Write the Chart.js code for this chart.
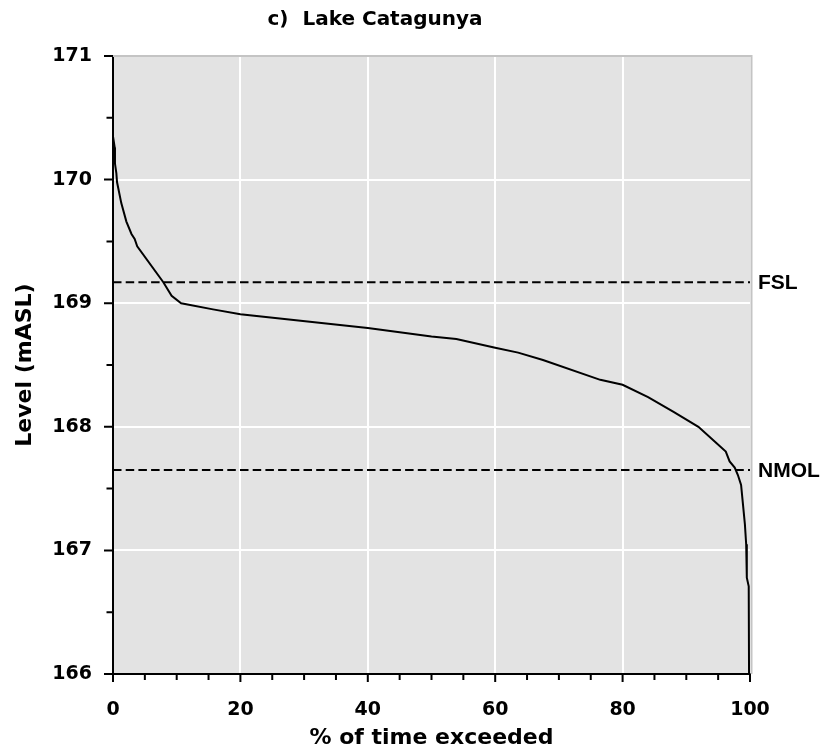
<!DOCTYPE html>
<html>
<head>
<meta charset="utf-8">
<script src="https://cdn.jsdelivr.net/npm/chart.js@4"></script>
<style>
html,body{margin:0;padding:0;background:#fff;}
#wrap{width:831px;height:751px;position:relative;}
</style>
</head>
<body>
<div id="wrap"><canvas id="c" width="831" height="751"></canvas></div>
<script>
// ---- data ----
const pctExceeded = [0, 0.27, 0.31, 0.53, 0.63, 1.3, 2.1, 2.9, 3.4, 3.8, 7.9, 9.2, 10.7, 15.7, 20, 40, 50, 53.9, 60, 63.6, 67.5, 76.5, 80, 84, 88, 91.9, 94.5, 96.2, 96.8, 97.6, 98.1, 98.6, 98.9, 99.2, 99.4, 99.5, 99.8, 99.85];
const levelMASL  = [170.35, 170.26, 170.13, 170.05, 169.98, 169.81, 169.66, 169.56, 169.52, 169.46, 169.17, 169.06, 169.00, 168.95, 168.91, 168.80, 168.73, 168.71, 168.64, 168.60, 168.54, 168.38, 168.34, 168.24, 168.12, 168.00, 167.88, 167.80, 167.72, 167.67, 167.61, 167.53, 167.37, 167.21, 167.05, 166.78, 166.71, 166.0];
const refLevelNames  = ['FSL', 'NMOL'];
const refLevelValues = [169.17, 167.65];
const xRange = [0, 100];
const yRange = [166, 171];
const xMajorStep = 20, xMinorStep = 5;
const yMajorStep = 1,  yMinorStep = 0.5;

const FONT = "'DejaVu Sans', sans-serif";
const LABEL_FONT = "'Liberation Sans', Arial, sans-serif";

const curve = pctExceeded.map((x, i) => ({x: x, y: levelMASL[i]}));
const refSets = refLevelValues.map((v, i) => ({
  label: refLevelNames[i],
  data: [{x: xRange[0], y: v}, {x: xRange[1], y: v}],
  borderColor: '#000', borderWidth: 2, borderDash: [8.5, 4.2],
  pointRadius: 0, showLine: true, fill: false, tension: 0
}));

const decor = {
  id: 'decor',
  beforeDraw(chart) {
    const {ctx, chartArea: a} = chart;
    ctx.save();
    ctx.fillStyle = '#e3e3e3';
    ctx.fillRect(a.left, a.top, a.right - a.left, a.bottom - a.top);
    ctx.restore();
  },
  beforeDatasetsDraw(chart) {
    const {ctx, chartArea: a} = chart;
    ctx.save();
    ctx.strokeStyle = '#c4c4c4';
    ctx.lineWidth = 2;
    ctx.beginPath();
    ctx.moveTo(a.left, a.top);
    ctx.lineTo(a.right + 1.5, a.top);
    ctx.lineTo(a.right + 1.5, a.bottom);
    ctx.stroke();
    ctx.restore();
  },
  afterDraw(chart) {
    const {ctx, chartArea: a, scales} = chart;
    const xs = scales.x, ys = scales.y;
    ctx.save();
    ctx.strokeStyle = '#000';
    ctx.lineWidth = 2;
    ctx.beginPath();
    for (let v = xRange[0]; v <= xRange[1] + 1e-9; v += xMinorStep) {
      const px = xs.getPixelForValue(v);
      const major = Math.abs(v / xMajorStep - Math.round(v / xMajorStep)) < 1e-6;
      ctx.moveTo(px, a.bottom);
      ctx.lineTo(px, a.bottom + (major ? 8 : 6));
    }
    for (let v = yRange[0]; v <= yRange[1] + 1e-9; v += yMinorStep) {
      const py = ys.getPixelForValue(v);
      const major = Math.abs(v / yMajorStep - Math.round(v / yMajorStep)) < 1e-6;
      ctx.moveTo(a.left, py);
      ctx.lineTo(a.left - (major ? 9 : 6.5), py);
    }
    ctx.stroke();
    // reference level labels
    ctx.fillStyle = '#000';
    ctx.font = 'bold 21px ' + LABEL_FONT;
    ctx.textAlign = 'left';
    ctx.textBaseline = 'middle';
    refLevelValues.forEach((v, i) => {
      ctx.fillText(refLevelNames[i], a.right + 8, ys.getPixelForValue(v) + 1);
    });
    ctx.restore();
  }
};

new Chart(document.getElementById('c'), {
  type: 'scatter',
  data: {
    datasets: [{
      label: 'Level',
      data: curve,
      borderColor: '#000', borderWidth: 2,
      pointRadius: 0, showLine: true, fill: false, tension: 0
    }].concat(refSets)
  },
  options: {
    responsive: false,
    animation: false,
    events: [],
    layout: {padding: {left: 0, right: 81, top: 0, bottom: 0}},
    plugins: {
      legend: {display: false},
      tooltip: {enabled: false},
      title: {
        display: true,
        text: 'c)  Lake Catagunya',
        color: '#000',
        font: {family: FONT, size: 20, weight: 'bold', lineHeight: 1.2},
        padding: {top: 8, bottom: 24}
      }
    },
    scales: {
      x: {
        type: 'linear', position: 'bottom',
        min: xRange[0], max: xRange[1],
        afterFit(s) { s.height = 77; },
        ticks: {stepSize: xMajorStep, color: '#000', padding: 25,
                font: {family: FONT, size: 19, weight: 'bold'}, maxRotation: 0},
        grid: {
          drawTicks: false,
          lineWidth: 2,
          color: c => (c.tick && c.tick.value > xRange[0] && c.tick.value < xRange[1]) ? '#ffffff' : 'rgba(0,0,0,0)'
        },
        border: {display: true, color: '#000', width: 2},
        title: {display: true, text: '% of time exceeded', color: '#000',
                font: {family: FONT, size: 22, weight: 'bold', lineHeight: 1.2},
                padding: {top: 0, bottom: 0}}
      },
      y: {
        type: 'linear', position: 'left',
        min: yRange[0], max: yRange[1],
        afterFit(s) { s.width = 113; },
        ticks: {stepSize: yMajorStep, color: '#000', padding: 21,
                font: {family: FONT, size: 19, weight: 'bold'}},
        grid: {
          drawTicks: false,
          lineWidth: 2,
          color: c => (c.tick && c.tick.value > yRange[0] && c.tick.value < yRange[1]) ? '#ffffff' : 'rgba(0,0,0,0)'
        },
        border: {display: true, color: '#000', width: 2},
        title: {display: true, text: 'Level (mASL)', color: '#000',
                font: {family: FONT, size: 22, weight: 'bold', lineHeight: 1.2},
                padding: {top: 12, bottom: 0}}
      }
    }
  },
  plugins: [decor]
});
</script>
</body>
</html>
